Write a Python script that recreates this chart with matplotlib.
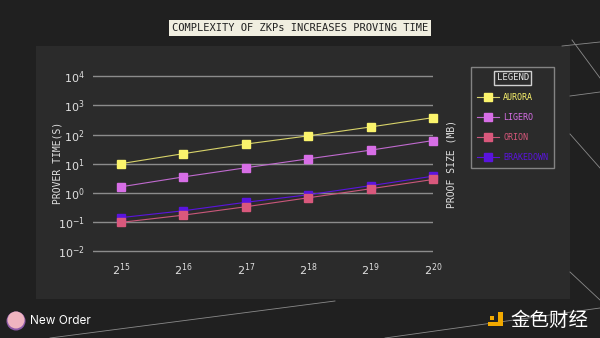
import numpy as np
import matplotlib.pyplot as plt
from matplotlib.patches import Rectangle, Ellipse
from matplotlib.lines import Line2D

# data (prover time in seconds, log scale)
exps = [15, 16, 17, 18, 19, 20]
aurora = [10, 22, 47, 90, 182, 380]
ligero = [1.6, 3.5, 7.2, 14.6, 29, 62]
brakedown = [0.14, 0.24, 0.47, 0.85, 1.75, 3.7]
orion = [0.096, 0.17, 0.33, 0.67, 1.37, 2.85]

names = ['AURORA', 'LIGERO', 'ORION', 'BRAKEDOWN']
series = [aurora, ligero, orion, brakedown]
marker_colors = ['#fbf46c', '#d76ee6', '#d9587c', '#5a14de']
line_colors = ['#d8d36a', '#c06acf', '#c9577a', '#5a14de']
ytick_vals = [1e-2, 1e-1, 1e0, 1e1, 1e2, 1e3, 1e4]

mono = 'DejaVu Sans Mono'
plt.rcParams['mathtext.fontset'] = 'dejavusans'

W, H = 600, 338
fig = plt.figure(figsize=(6, 3.38), dpi=100)
fig.patch.set_facecolor('#202020')

def fx(x):
    return x / W

def fy(y):
    return 1 - y / H

# inner panel
fig.add_artist(Rectangle((fx(36), fy(299)), fx(534), 253 / H,
                         transform=fig.transFigure, facecolor='#2b2b2b',
                         edgecolor='none', zorder=0))

# decorative thin lines
deco = [((50, 338), (335, 301)), ((385, 338), (600, 308)),
        ((562, 46), (600, 42)), ((572, 40), (600, 78)),
        ((570, 96), (600, 92)), ((570, 134), (600, 168)),
        ((570, 272), (600, 300))]
for (x0, y0), (x1, y1) in deco:
    fig.add_artist(Line2D([fx(x0), fx(x1)], [fy(y0), fy(y1)],
                          transform=fig.transFigure, color='#8a8a8a', lw=0.6, zorder=1))

ax = fig.add_axes([fx(93), fy(253), fx(340), 179 / H])
ax.set_facecolor('none')
ax.set_yscale('log')
ax.set_ylim(0.0085, 1.2e4)
ax.set_xlim(14.55, 20)

for i in range(len(series)):
    z = 5 if names[i] == 'ORION' else 4
    ax.plot(exps, series[i], color=line_colors[i], lw=0.8, marker='s', markersize=6.3,
            markerfacecolor=marker_colors[i], markeredgecolor=marker_colors[i],
            label=names[i], clip_on=False, zorder=z)

ax.set_yticks(ytick_vals)
ax.set_yticklabels([r'$10^{%d}$' % int(np.log10(v)) for v in ytick_vals])
ax.minorticks_off()
ax.set_xticks(exps)
ax.set_xticklabels([r'$2^{%d}$' % e for e in exps])
ax.tick_params(length=0, colors='#e0e0e0', labelsize=8, pad=6)
ax.grid(axis='y', color='#8c8c8c', lw=1)
ax.set_axisbelow(True)
for s in ax.spines.values():
    s.set_visible(False)

fig.text(fx(57), fy(163), 'PROVER TIME(S)', rotation=90, ha='center', va='center',
         color='#e0e0e0', fontsize=7, family=mono)
fig.text(fx(451), fy(164), 'PROOF SIZE (MB)', rotation=90, ha='center', va='center',
         color='#e0e0e0', fontsize=7, family=mono)

# title
fig.text(0.5, fy(28), 'COMPLEXITY OF ZKPs INCREASES PROVING TIME', ha='center', va='center',
         color='#222222', fontsize=7.5, family=mono,
         bbox=dict(facecolor='#f0eee0', edgecolor='none', boxstyle='square,pad=0.3'))

# legend
leg = ax.legend(loc='upper left', bbox_to_anchor=(fx(471), fy(67)),
                bbox_transform=fig.transFigure, frameon=True, title='LEGEND',
                prop={'family': mono, 'size': 6}, labelcolor=marker_colors,
                handlelength=2.6, handletextpad=0.5, labelspacing=1.3,
                borderpad=0.75, borderaxespad=0)
leg.get_frame().set_facecolor('none')
leg.get_frame().set_edgecolor('#9a9a9a')
leg.get_frame().set_linewidth(1)
leg.get_frame().set_boxstyle('square', pad=0)
t = leg.get_title()
t.set_color('#e8e8e8')
t.set_family(mono)
t.set_fontsize(6.5)
t.set_bbox(dict(facecolor='none', edgecolor='#d0d0d0', boxstyle='square,pad=0.25'))

# footer: New Order
fig.add_artist(Ellipse((fx(16), fy(321)), 19 / W, 19 / H, transform=fig.transFigure,
                       facecolor='#8e5aa8', edgecolor='none', zorder=3))
fig.add_artist(Ellipse((fx(16), fy(320)), 17 / W, 17 / H, transform=fig.transFigure,
                       facecolor='#efb4c0', edgecolor='none', zorder=4))
fig.text(fx(30), fy(321), 'New Order', ha='left', va='center', color='white',
         fontsize=8.5, family='Inter')

# footer: watermark
fig.add_artist(Rectangle((fx(488), fy(326)), 15 / W, 4 / H, transform=fig.transFigure,
                         facecolor='#f2a900', edgecolor='none', zorder=4))
fig.add_artist(Rectangle((fx(498), fy(326)), 5 / W, 14 / H, transform=fig.transFigure,
                         facecolor='#f2a900', edgecolor='none', zorder=4))
fig.add_artist(Rectangle((fx(490), fy(320)), 4 / W, 4 / H, transform=fig.transFigure,
                         facecolor='#f2a900', edgecolor='none', zorder=4))
fig.text(fx(510), fy(320), '金色财经', ha='left', va='center', color='white',
         fontsize=14, family=['Noto Sans CJK SC', 'DejaVu Sans'])

fig.savefig('out.png', dpi=100, facecolor=fig.get_facecolor())
